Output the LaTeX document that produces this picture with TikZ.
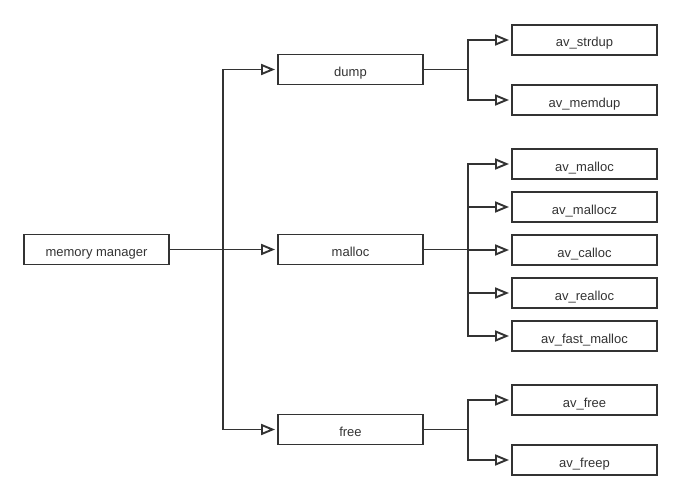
\documentclass[tikz,border=0pt]{standalone}
\usepackage{fontspec}
\setmainfont{Liberation Sans}
\usetikzlibrary{arrows.meta}
\definecolor{ink}{HTML}{333333}
\begin{document}
\begin{tikzpicture}[x=1pt,y=-1pt,
  box/.style={draw=ink, line width=1.9pt, minimum width=145pt, minimum height=30pt, inner sep=0pt, text=ink, text height=14pt, text depth=0pt, font=\fontsize{13}{15}\selectfont},
  conn/.style={draw=ink, line width=1.9pt},
  arr/.style={conn, -{Triangle[open, length=14pt, width=11pt, fill=white]}, shorten >=2pt}]
\useasboundingbox (0,0) rectangle (682,500);
\node[box] (mm) at (96.5,249.5) {memory manager};
\node[box] (dump) at (350.5,69.5) {dump};
\node[box] (malloc) at (350.5,249.5) {malloc};
\node[box] (free) at (350.5,429.5) {free};
\node[box] (strdup) at (584.5,40) {av\_strdup};
\node[box] (memdup) at (584.5,100) {av\_memdup};
\node[box] (amalloc) at (584.5,164) {av\_malloc};
\node[box] (amallocz) at (584.5,207) {av\_mallocz};
\node[box] (acalloc) at (584.5,250) {av\_calloc};
\node[box] (arealloc) at (584.5,293) {av\_realloc};
\node[box] (afast) at (584.5,336) {av\_fast\_malloc};
\node[box] (afree) at (584.5,400) {av\_free};
\node[box] (afreep) at (584.5,460) {av\_freep};
\coordinate (s0) at (223,249.5);
\coordinate (s1) at (468,69.5);
\coordinate (s2) at (468,249.5);
\coordinate (s3) at (468,429.5);
\draw[arr] (mm.east) -- (malloc.west);
\draw[arr] (s0) |- (dump.west);
\draw[arr] (s0) |- (free.west);
\draw[conn] (dump.east) -- (s1);
\draw[arr] (s1) |- (strdup.west);
\draw[arr] (s1) |- (memdup.west);
\draw[conn] (malloc.east) -- (s2);
\draw[arr] (s2) |- (amalloc.west);
\draw[arr] (s2) |- (amallocz.west);
\draw[arr] (s2) |- (acalloc.west);
\draw[arr] (s2) |- (arealloc.west);
\draw[arr] (s2) |- (afast.west);
\draw[conn] (free.east) -- (s3);
\draw[arr] (s3) |- (afree.west);
\draw[arr] (s3) |- (afreep.west);
\end{tikzpicture}
\end{document}
